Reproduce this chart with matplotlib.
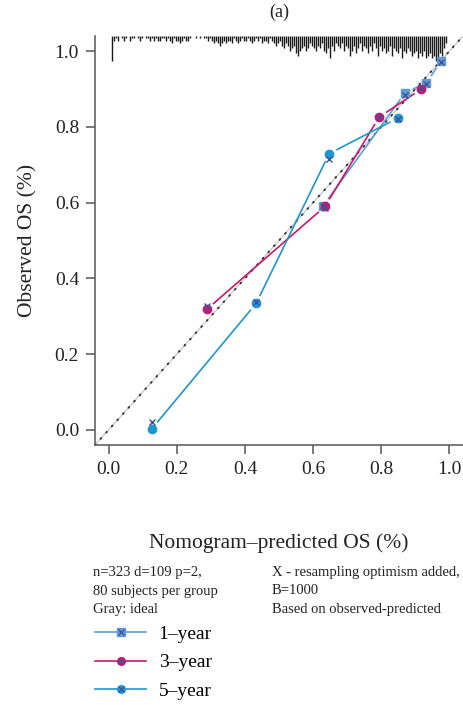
import matplotlib.pyplot as plt
from matplotlib.lines import Line2D
from matplotlib.legend_handler import HandlerTuple
import numpy as np

plt.rcParams['font.family'] = ['Liberation Serif', 'DejaVu Serif']

# calibration points (predicted, observed) and optimism-corrected marks
pred_1y = [0.630, 0.870, 0.932, 0.976]
obs_1y = [0.592, 0.890, 0.916, 0.974]
corr_1y = [0.590, 0.885, 0.912, 0.970]

pred_3y = [0.288, 0.635, 0.794, 0.918]
obs_3y = [0.318, 0.590, 0.826, 0.900]
corr_3y = [0.327, 0.586, 0.826, 0.902]

pred_5y = [0.127, 0.433, 0.647, 0.848]
obs_5y = [0.003, 0.334, 0.729, 0.823]
corr_5y = [0.020, 0.338, 0.716, 0.820]

labels = ['1\u2013year', '3\u2013year', '5\u2013year']
colors = ['#5d9dd3', '#c8176f', '#1c97cf']
markers = ['s', 'o', 'o']
x_color = '#45509a'

# distribution of predicted risk shown as rug at the top (relative counts)
rug_counts = [10, 2, 1, 2, 0, 1, 2, 1, 0, 2, 1, 1, 0, 1, 2, 1, 0, 1, 1, 2, 1, 2, 1, 2, 2, 1, 1, 2,
              1, 2, 3, 1, 2, 2, 3, 2, 1, 2, 2, 1, 0, 0, 1, 0, 1, 0, 1, 1, 2, 1, 2, 3, 2, 3, 4,
              3, 2, 3, 2, 2, 3, 1, 2, 3, 2, 1, 2, 2, 1, 2, 3, 2, 1, 2, 1, 3, 2, 2, 3, 1, 2, 3,
              4, 3, 2, 4, 5, 3, 4, 6, 5, 4, 7, 8, 6, 5, 4, 6, 5, 3, 4, 5, 6, 4, 5, 3, 6, 7, 5, 9, 4, 6,
              3, 4, 5, 3, 6, 4, 5, 8, 6, 4, 7, 5, 3, 6, 4, 5, 7, 4, 6, 3, 5, 8, 4, 6, 5, 7, 6, 4,
              8, 5, 6, 7, 5, 9, 6, 7, 5, 6, 8, 7, 6, 9, 7, 8, 6, 9, 8, 7, 9, 8, 10, 9, 7, 8, 5, 3]
rug_x = np.linspace(0.01, 0.99, len(rug_counts))

fig = plt.figure(figsize=(4.64, 7.05), dpi=100)
ax = fig.add_axes([0.2047, 0.3688, 0.7933, 0.5802])
ax.set_xlim(-0.04, 1.04)
ax.set_ylim(-0.04, 1.04)

# ideal line
ax.plot([-0.04, 1.04], [-0.04, 1.04], color='#cccccc', lw=1, zorder=1)
ax.plot([-0.04, 1.04], [-0.04, 1.04], color='#333333', lw=1.4,
        linestyle=(0, (0.5, 3.8)), dash_capstyle='round', zorder=2)

# rug
unit = 0.0066
top = 1.04
ax.vlines(rug_x, top - np.array(rug_counts) * unit, top, color='#1a1a1a', lw=1.0, zorder=2)


def gapped_line(xs, ys, color, gap=9):
    # type="b" style: segments that stop short of the points
    pts = ax.transData.transform(np.column_stack([xs, ys]))
    inv = ax.transData.inverted()
    for p0, p1 in zip(pts[:-1], pts[1:]):
        d = p1 - p0
        L = np.hypot(*d)
        if L <= 2 * gap:
            continue
        u = d / L
        a = inv.transform(p0 + u * gap)
        b = inv.transform(p1 - u * gap)
        ax.plot([a[0], b[0]], [a[1], b[1]], color=color, lw=1.2, zorder=3)


series = [(pred_1y, obs_1y, corr_1y), (pred_3y, obs_3y, corr_3y), (pred_5y, obs_5y, corr_5y)]
for (px, oy, cy), c, m in zip(series, colors, markers):
    gapped_line(px, oy, c)
    ax.plot(px, oy, linestyle='none', marker=m, ms=6, color=c, mec=c, zorder=4)
    ax.plot(px, cy, linestyle='none', marker='x', ms=5, mew=1.0, color=x_color, zorder=5)

ax.spines['top'].set_visible(False)
ax.spines['right'].set_visible(False)
for s in ['left', 'bottom']:
    ax.spines[s].set_color('#555555')
    ax.spines[s].set_linewidth(1.1)

ticks = [0.0, 0.2, 0.4, 0.6, 0.8, 1.0]
ax.set_xticks(ticks)
ax.set_yticks(ticks)
ax.set_xticklabels([f'{t:.1f}' for t in ticks])
ax.set_yticklabels([f'{t:.1f}' for t in ticks])
ax.tick_params(length=6.5, width=1.1, color='#555555', labelsize=14, pad=5, labelcolor='#222222')

ax.set_xlabel('Nomogram\u2013predicted OS (%)', fontsize=15.5, labelpad=40, color='#222222')
ax.set_ylabel('Observed OS (%)', fontsize=15.5, labelpad=12, color='#222222')
ax.set_title('(a)', fontsize=13, pad=14, color='#222222')

fig.text(93 / 464, 1 - 591 / 705, 'n=323 d=109 p=2,\n80 subjects per group\nGray: ideal',
         fontsize=10.5, va='center', ha='left', linespacing=1.52, color='#222222')
fig.text(272 / 464, 1 - 591 / 705, 'X - resampling optimism added,\nB=1000\nBased on observed-predicted',
         fontsize=10.5, va='center', ha='left', linespacing=1.52, color='#222222')

# legend
handles = []
for c, m in zip(colors, markers):
    handles.append((Line2D([], [], color=c, lw=1.2, marker=m, ms=5.5, mec=c),
                    Line2D([], [], linestyle='none', marker='x', ms=4.5, mew=0.9, color=x_color)))
fig.legend(handles, labels, handler_map={tuple: HandlerTuple(ndivide=1, pad=0)},
           loc='upper left', bbox_to_anchor=(78 / 464, 1 - 608 / 705), frameon=False,
           fontsize=14, handlelength=2.6, handletextpad=0.65, labelspacing=0.55)

fig.savefig('out.png', dpi=100)
